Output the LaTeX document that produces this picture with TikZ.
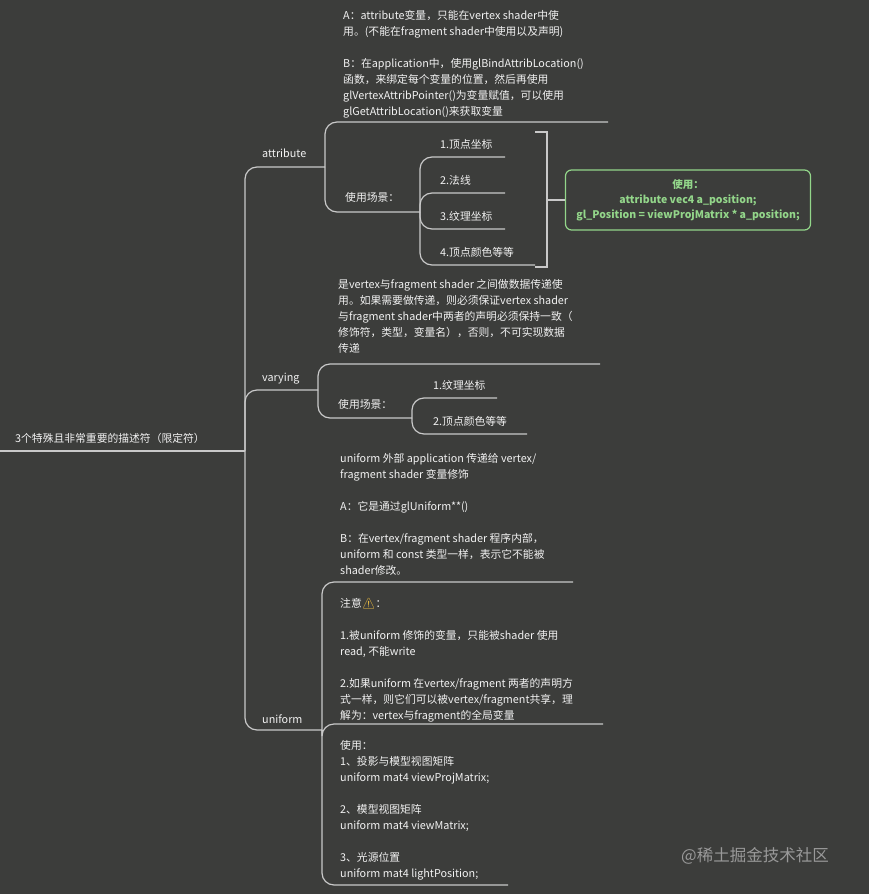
\documentclass[tikz,border=0pt]{standalone}
\usepackage{fontspec}
\newfontfamily\cjk{Noto Sans CJK SC}
\newfontfamily\emo{Noto Emoji}
\usetikzlibrary{positioning}
\definecolor{bgc}{HTML}{3C3D3B}
\definecolor{linec}{HTML}{C9C9C9}
\definecolor{txtc}{HTML}{F2F2F2}
\definecolor{greenc}{HTML}{93D68A}
\definecolor{warnc}{HTML}{F5C342}
\tikzset{
  txt/.style={anchor=north west,inner sep=0pt,align=left,text=txtc,font=\cjk\fontsize{10.8}{16}\selectfont},
  branch/.style={draw=linec,line width=1.2pt,rounded corners=12pt},
  under/.style={draw=linec,line width=1.2pt},
  usebox/.style={draw=greenc,line width=1.2pt,rounded corners=6pt,align=center,text=greenc,
    font=\cjk\bfseries\fontsize{10.5}{15}\selectfont,minimum width=245pt,minimum height=60pt}
}
\begin{document}
\begin{tikzpicture}[x=1pt,y=-1pt]
\fill[bgc] (0,0) rectangle (869,894);
\useasboundingbox (0,0) rectangle (869,894);
% root
\node[txt] (root) at (15,433) {3个特殊且非常重要的描述符（限定符）};
\coordinate (r0) at (0,451);
\coordinate (r1) at (245,451);
\draw[under] (r0) -- (r1);
% level 1
\node[txt] (attr) at (262,149) {attribute};
\node[txt] (vary) at (262,373) {varying};
\node[txt] (unif) at (262,715) {uniform};
\coordinate (a1) at (325,167);
\coordinate (v1) at (318,390);
\coordinate (u1) at (322,730);
\draw[branch] (r1) -- (245,167) -- (a1);
\draw[branch] (r1) -- (245,390) -- (v1);
\draw[branch] (r1) -- (245,730) -- (u1);
% attribute
\node[txt] (attrA) at (343,10) {A：attribute变量，只能在vertex shader中使\\用。(不能在fragment shader中使用以及声明)\\[16pt]B：在application中，使用glBindAttribLocation()\\函数，来绑定每个变量的位置，然后再使用\\glVertexAttribPointer()为变量赋值，可以使用\\glGetAttribLocation()来获取变量};
\node[txt] (attrS) at (345,192) {使用场景：};
\coordinate (aA) at (608,122);
\coordinate (aS) at (420,212);
\draw[branch] (a1) -- (325,122) -- (aA);
\draw[branch] (a1) -- (325,212) -- (aS);
\foreach \y/\t/\e in {145/1.顶点坐标/505,181/2.法线/505,217/3.纹理坐标/505,253/4.顶点颜色等等/535}{
  \node[txt] (as\y) at (440,\y-6) {\t};
  \draw[branch] (aS) -- (420,\y+12) -- (\e,\y+12);
}
\draw[under] (535,132) -- (547,132) -- (547,267) -- (535,267);
\node[usebox] (attrUse) at (688,200) {使用：\\attribute vec4 a\_position;\\gl\_Position = viewProjMatrix * a\_position;};
\draw[under] (547,200) -- (attrUse.west);
% varying
\node[txt] (varyA) at (338,279) {是vertex与fragment shader 之间做数据传递使\\用。如果需要做传递，则必须保证vertex shader\\与fragment shader中两者的声明必须保持一致（\\修饰符，类型，变量名），否则，不可实现数据\\传递};
\node[txt] (varyS) at (338,399) {使用场景：};
\coordinate (vA) at (600,364);
\coordinate (vS) at (412,418);
\draw[branch] (v1) -- (318,364) -- (vA);
\draw[branch] (v1) -- (318,418) -- (vS);
\foreach \y/\t/\e in {386/1.纹理坐标/497,422/2.顶点颜色等等/527}{
  \node[txt] (vs\y) at (433,\y-6) {\t};
  \draw[branch] (vS) -- (412,\y+12) -- (\e,\y+12);
}
% uniform
\node[txt] (unifA) at (340,453) {uniform 外部 application 传递给 vertex/\\fragment shader 变量修饰\\[16pt]A：它是通过glUniform**()\\[16pt]B：在vertex/fragment shader 程序内部，\\uniform 和 const 类型一样，表示它不能被\\shader修改。};
\node[txt] (unifB) at (340,598) {注意{\emo\color{warnc}⚠}：\\[16pt]1.被uniform 修饰的变量，只能被shader 使用\\read, 不能write\\[16pt]2.如果uniform 在vertex/fragment 两者的声明方\\式一样，则它们可以被vertex/fragment共享，理\\解为：vertex与fragment的全局变量};
\node[txt] (unifC) at (340,740) {使用：\\1、投影与模型视图矩阵\\uniform mat4 viewProjMatrix;\\[16pt]2、模型视图矩阵\\uniform mat4 viewMatrix;\\[16pt]3、光源位置\\uniform mat4 lightPosition;};
\draw[branch] (u1) -- (322,582) -- (573,582);
\draw[branch] (u1) -- (322,724) -- (603,724);
\draw[branch] (u1) -- (322,885) -- (508,885);
\node[txt,text=gray!80,font=\cjk\fontsize{16.5}{18}\selectfont] (mark) at (681,847) {@稀土掘金技术社区};
\end{tikzpicture}
\end{document}
